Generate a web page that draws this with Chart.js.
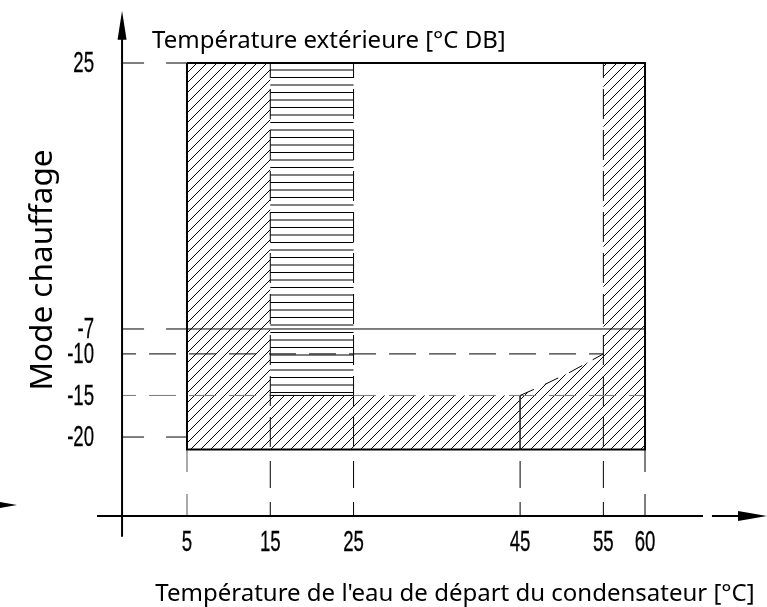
<!DOCTYPE html>
<html><head><meta charset="utf-8">
<script src="https://cdn.jsdelivr.net/npm/chart.js@4/dist/chart.umd.min.js"></script>
<style>html,body{margin:0;padding:0;background:#fff}#wrap{width:767px;height:607px;position:relative}</style>
</head><body><div id="wrap"><canvas id="c"></canvas></div>
<script>
// ---------- data ----------
const xTickValues = [5, 15, 25, 45, 55, 60];          // water flow temperature [°C]
const yTickValues = [25, -7, -10, -15, -20];          // outdoor temperature [°C DB]
const envelopeX = [5, 60];
const envelopeY = [-21.5, 25];
const solidLimitY = -7;
const dashedLimitYs = [-10, -15];
const dashedLimitEndX = [55, 60];
const stripedBandX = [15, 25];
const stripedBandBottomY = -15;
const innerVerticalXs = [15, 25, 55];
const curveX = [45, 47.5, 51, 55];
const curveY = [-15, -13.9, -12.2, -10];
const lowTempEdgeX = 45;

// ---------- layout (value space of the drawing) ----------
const AX = { x0: -2.8, y0: -29.5, xFrom: -5.8, xLineTo: 66.96, xDashFrom: 68.04, xTo: 74.65, yFrom: -32, yTo: 31.3 };
const strayArrowTip = { x: -15.42, y: -28.18 };

const xTitle = "Température de l'eau de départ du condensateur [°C]";
const topTitle = "Température extérieure [°C DB]";
const yTitle = "Mode chauffage";

// ---------- patterns ----------
function diagPattern() {
  const s = 10, c = document.createElement('canvas'); c.width = s; c.height = s;
  const g = c.getContext('2d'); g.strokeStyle = '#000'; g.lineWidth = 1;
  g.beginPath(); g.moveTo(-1, s + 1); g.lineTo(s + 1, -1);
  g.moveTo(-1, 1); g.lineTo(1, -1); g.moveTo(s - 1, s + 1); g.lineTo(s + 1, s - 1); g.stroke();
  return g.createPattern(c, 'repeat');
}
function horizPattern() {
  const c = document.createElement('canvas'); c.width = 4; c.height = 15;
  const g = c.getContext('2d');
  g.fillStyle = '#000'; g.fillRect(0, 2, 4, 1);
  g.fillStyle = 'rgba(0,0,0,0.5)'; g.fillRect(0, 9, 4, 2);
  return g.createPattern(c, 'repeat');
}

const P = (x, y) => ({ x, y });
function seg(points, opts) {
  return Object.assign({ data: points, showLine: true, borderColor: '#000', borderWidth: 1,
    pointRadius: 0, fill: false, order: 0, tension: 0 }, opts || {});
}

const [x5, x60] = envelopeX, [yB, yT] = envelopeY;
const curvePts = curveX.map((v, i) => P(v, curveY[i]));
const hatchedZone = [P(x5, yT), P(stripedBandX[0], yT), P(stripedBandX[0], stripedBandBottomY), P(curveX[0], stripedBandBottomY),
  ...curvePts.slice(1), P(curveX[curveX.length - 1], yT), P(x60, yT), P(x60, yB), P(x5, yB)];
const stripedZone = [P(stripedBandX[0], yT), P(stripedBandX[1], yT), P(stripedBandX[1], stripedBandBottomY), P(stripedBandX[0], stripedBandBottomY)];

const datasets = [];
// fills
datasets.push(seg(hatchedZone, { fill: 'shape', backgroundColor: diagPattern(), borderColor: 'rgba(0,0,0,0)', borderWidth: 0, order: 20 }));
datasets.push(seg(stripedZone, { fill: 'shape', backgroundColor: horizPattern(), borderColor: 'rgba(0,0,0,0)', borderWidth: 0, order: 20 }));
// leader lines from the axis to the envelope
[yT, solidLimitY, -20].forEach(v => datasets.push(seg([P(AX.x0, v), P(x5, v)], { borderDash: [22, 22], order: 5 })));
// dashed limits
datasets.push(seg([P(AX.x0, dashedLimitYs[0]), P(dashedLimitEndX[0], dashedLimitYs[0])], { borderDash: [27, 13], borderDashOffset: 13, order: 5 }));
datasets.push(seg([P(AX.x0, dashedLimitYs[1]), P(dashedLimitEndX[1], dashedLimitYs[1])], { borderDash: [27, 13], borderDashOffset: 13, borderColor: '#7a7a7a', order: 5 }));
// solid -7 line and band bottom
datasets.push(seg([P(x5, solidLimitY), P(x60, solidLimitY)], { order: 4 }));
datasets.push(seg([P(stripedBandX[0], stripedBandBottomY), P(stripedBandX[1], stripedBandBottomY)], { order: 4 }));
// inner verticals
innerVerticalXs.forEach(v => datasets.push(seg([P(v, yT), P(v, yB)], { borderDash: [30, 11], borderDashOffset: 15, order: 5 })));
datasets.push(seg([P(lowTempEdgeX, stripedBandBottomY), P(lowTempEdgeX, yB)], { borderColor: '#333', order: 5 }));
// tick drops below envelope
xTickValues.forEach(v => {
  const edge = (v === x5 || v === x60);
  datasets.push(seg([P(v, AX.y0), P(v, yB)], { borderDash: edge ? [22, 22] : [14, 14, 27, 11], borderColor: v === x5 ? '#555' : '#000', order: 5 }));
});
// limit curve
datasets.push(seg(curvePts, { borderDash: [15, 12], order: 4 }));
// envelope outline
datasets.push(seg([P(x5, yT), P(x60, yT), P(x60, yB), P(x5, yB), P(x5, yT)], { borderWidth: 2, order: 1 }));
// axes
datasets.push(seg([P(AX.x0, AX.yFrom), P(AX.x0, AX.yTo - 2)], { borderWidth: 2, order: 1 }));
datasets.push(seg([P(AX.xFrom, AX.y0), P(AX.xLineTo, AX.y0)], { borderWidth: 2, order: 1 }));
datasets.push(seg([P(AX.xDashFrom, AX.y0), P(AX.xTo - 2, AX.y0)], { borderWidth: 2, order: 1 }));

const decor = {
  id: 'decor',
  afterDatasetsDraw(chart) {
    const { ctx, scales: { x, y } } = chart;
    const px = v => x.getPixelForValue(v), py = v => y.getPixelForValue(v);
    ctx.save();
    ctx.fillStyle = '#000'; ctx.strokeStyle = '#000';
    function arrow(tx, ty, dir, len, half) {
      ctx.beginPath();
      if (dir === 'up') { ctx.moveTo(tx, ty); ctx.lineTo(tx - half, ty + len); ctx.lineTo(tx + half, ty + len); }
      else { ctx.moveTo(tx, ty); ctx.lineTo(tx - len, ty - half); ctx.lineTo(tx - len, ty + half); }
      ctx.closePath(); ctx.fill();
    }
    arrow(px(AX.xTo), py(AX.y0), 'right', 29, 5);
    arrow(px(AX.x0), py(AX.yTo), 'up', 29, 4.5);
    arrow(px(strayArrowTip.x), py(strayArrowTip.y), 'right', 29, 5);

    // tick labels (narrow technical digits)
    ctx.font = '30px "Liberation Sans", Arial, sans-serif';
    ctx.lineWidth = 0.3;
    const sx = 0.62;
    function narrow(t, cx, cy) {
      ctx.save(); ctx.translate(cx, cy); ctx.scale(sx, 1); ctx.fillText(t, 0, 0); ctx.strokeText(t, 0, 0); ctx.restore();
    }
    ctx.textBaseline = 'middle'; ctx.textAlign = 'right';
    yTickValues.forEach(v => narrow(String(v), px(AX.x0) - 28, py(v) + 1));
    ctx.textBaseline = 'alphabetic'; ctx.textAlign = 'center';
    xTickValues.forEach(v => narrow(String(v), px(v), py(AX.y0) + 35));

    // titles
    ctx.font = '24px "Noto Sans", "Open Sans", sans-serif';
    ctx.textAlign = 'left'; ctx.textBaseline = 'alphabetic';
    ctx.fillText(topTitle, 152, 48);
    ctx.textAlign = 'center';
    ctx.fillText(xTitle, 455, 601);
    ctx.save();
    ctx.translate(52, 270); ctx.rotate(-Math.PI / 2);
    ctx.font = '31.5px "Noto Sans", "Open Sans", sans-serif';
    ctx.fillText(yTitle, 0, 0);
    ctx.restore();
    ctx.restore();
  }
};

new Chart(document.getElementById('c'), {
  type: 'scatter',
  data: { datasets },
  options: {
    responsive: true, maintainAspectRatio: false, animation: false, events: [],
    layout: { padding: 0 },
    plugins: { legend: { display: false }, tooltip: { enabled: false } },
    scales: {
      x: { type: 'linear', display: false, min: -17.457, max: 74.65 },
      y: { type: 'linear', display: false, min: -40.45, max: 32.58 }
    }
  },
  plugins: [decor]
});
</script>
</body></html>
